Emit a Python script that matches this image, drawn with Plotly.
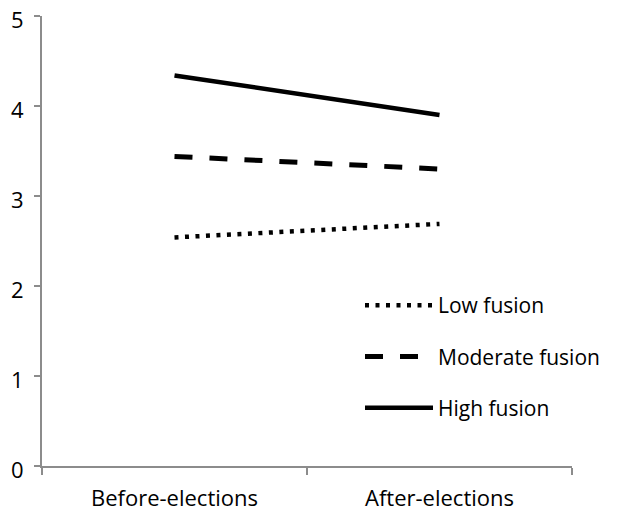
import plotly.graph_objects as go

categories = ["Before-elections", "After-elections"]
low_fusion = [2.54, 2.69]
moderate_fusion = [3.44, 3.30]
high_fusion = [4.34, 3.90]
series_names = ["Low fusion", "Moderate fusion", "High fusion"]
y_ticks = [0, 1, 2, 3, 4, 5]

font = "Open Sans, Liberation Sans, sans-serif"

fig = go.Figure()
styles = [("4px,6.5px", 4.5), ("18px,17px", 5), ("solid", 4.5)]
for i, (name, vals) in enumerate(zip(series_names, [low_fusion, moderate_fusion, high_fusion])):
    dash, w = styles[i]
    fig.add_trace(go.Scatter(x=categories, y=vals, mode="lines", name=name,
                             legendgroup=name,
                             line=dict(color="black", width=w, dash=dash)))

axis_gray = "#8c8c8c"
fig.update_layout(
    width=617, height=511,
    margin=dict(l=42, r=39, t=16, b=45),
    paper_bgcolor="white", plot_bgcolor="white",
    font=dict(family=font, size=22, color="black"),
    showlegend=True,
    legend=dict(x=0.6, y=0.402, xanchor="left", yanchor="top",
                tracegroupgap=21, font=dict(size=21, family=font),
                bgcolor="rgba(0,0,0,0)", itemwidth=68),
    xaxis=dict(type="category", range=[-0.5, 1.5], showline=True,
               linecolor=axis_gray, linewidth=2, ticks="outside",
               tickson="boundaries", ticklen=7, tickcolor=axis_gray,
               tickwidth=2, showgrid=False, zeroline=False,
               automargin=False, ticklabelstandoff=12,
               ticklabeloverflow="allow", tickfont=dict(size=22)),
    yaxis=dict(range=[0, 5], tickvals=y_ticks, showline=True,
               linecolor=axis_gray, linewidth=2, ticks="outside",
               ticklen=6, tickcolor=axis_gray, tickwidth=2,
               showgrid=False, zeroline=False, automargin=False,
               ticklabelstandoff=6, ticklabelshift=4,
               ticklabeloverflow="allow", tickfont=dict(size=22)),
)

# remove the browser's default 8px body margin so the figure fills the window
fig.write_html("out.html", config={"displayModeBar": False},
               post_script="document.body.style.margin='0';")
